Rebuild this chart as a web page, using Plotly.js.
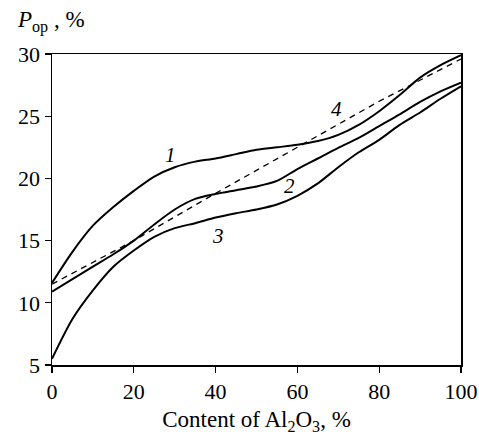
<!DOCTYPE html>
<html><head><meta charset="utf-8">
<script src="https://cdn.plot.ly/plotly-3.0.1.min.js"></script>
<style>body{margin:0;background:#fff}#c{width:479px;height:435px}</style>
</head><body><div id="c"></div>
<script>
const xVals = [0,5,10,15,20,25,30,35,40,45,50,55,60,65,70,75,80,85,90,95,100];
const curve1 = [11.6,14.1,16.2,17.7,19.0,20.15,20.9,21.35,21.6,21.95,22.3,22.5,22.7,23.0,23.5,24.3,25.4,26.7,28.1,29.1,29.9];
const curve2 = [10.9,11.9,12.9,13.9,15.0,16.3,17.5,18.35,18.75,19.05,19.35,19.8,20.75,21.6,22.45,23.25,24.2,25.15,26.15,27.0,27.7];
const curve3 = [5.5,8.7,11.0,12.9,14.2,15.3,16.0,16.4,16.85,17.2,17.5,17.9,18.6,19.6,20.9,22.1,23.1,24.3,25.3,26.4,27.4];
const xDash = [0,20,40,60,80,100];
const curve4 = [11.5,15.0,18.8,22.5,26.2,29.6];
const labels = ['1','2','3','4'];
const labelX = [29,58,40.5,69.5];
const labelY = [21.9,19.4,15.4,25.6];
const xTicks = [0,20,40,60,80,100];
const yTicks = [5,10,15,20,25,30];

const ln = {color:'#000', width:2, shape:'spline', smoothing:0.8};
const traces = [
  {x:xVals, y:curve1, mode:'lines', line:ln},
  {x:xVals, y:curve2, mode:'lines', line:ln},
  {x:xVals, y:curve3, mode:'lines', line:ln},
  {x:xDash, y:curve4, mode:'lines', line:{color:'#000', width:1.3, dash:'6px,5px'}}
];
const fam = '"Liberation Serif", "Times New Roman", serif';
const tickFont = {family:fam, size:22, color:'#000'};
const titleFont = {family:fam, size:23, color:'#000'};
const labFont = {family:fam, size:21, color:'#000'};
const annotations = labels.map((t,i)=>({x:labelX[i], y:labelY[i], text:'<i>'+t+'</i>', showarrow:false, font:labFont}));
annotations.push({xref:'paper', yref:'paper', x:-0.09, y:1.105, xanchor:'left', yanchor:'middle', showarrow:false,
  text:'<i>P</i><sub>op</sub> , %', font:titleFont});
const layout = {
  width:479, height:435,
  margin:{l:52, r:18, t:54, b:70},
  paper_bgcolor:'#fff', plot_bgcolor:'#fff',
  showlegend:false,
  font:tickFont,
  xaxis:{range:[0,100], tickvals:xTicks, ticks:'outside', ticklen:6, tickwidth:1.3, tickcolor:'#000',
    tickfont:tickFont,
    showline:true, linecolor:'#000', linewidth:1.5, mirror:true, showgrid:false, zeroline:false,
    title:{text:'Content of Al<sub>2</sub>O<sub>3</sub>, %', font:titleFont, standoff:12}},
  yaxis:{range:[5,30], tickvals:yTicks, ticks:'outside', ticklen:6, tickwidth:1.3, tickcolor:'#000',
    tickfont:tickFont,
    showline:true, linecolor:'#000', linewidth:1.5, mirror:true, showgrid:false, zeroline:false},
  annotations:annotations
};
Plotly.newPlot('c', traces, layout, {displayModeBar:false, staticPlot:true});
</script></body></html>
